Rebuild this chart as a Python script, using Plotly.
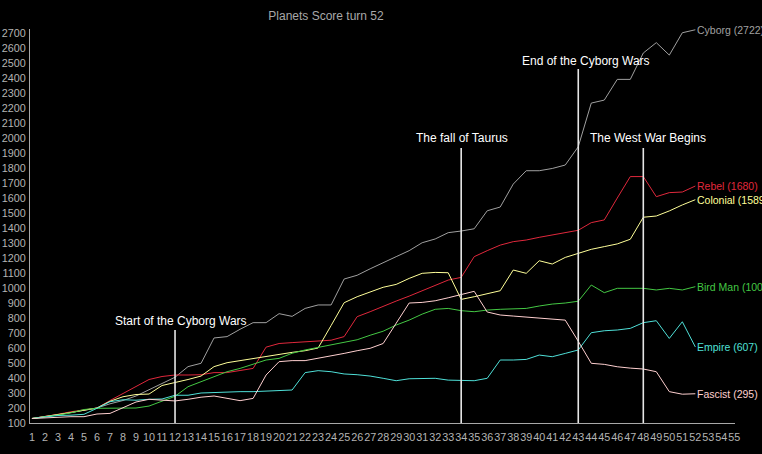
import plotly.graph_objects as go

# turns 1..52, scores
turns = list(range(1, 53))

cyborg = [130, 140, 155, 170, 185, 200, 228, 250, 280, 320, 360, 405, 476, 498, 667, 676,
          725, 769, 769, 829, 811, 864, 887, 887, 1060, 1085, 1128, 1166, 1209, 1249, 1302, 1327,
          1369, 1380, 1395, 1515, 1540, 1693, 1782, 1782, 1797, 1820, 1942, 2233, 2253, 2391,
          2391, 2567, 2636, 2553, 2702, 2722]
rebel = [130, 142, 158, 175, 190, 200, 250, 295, 340, 390, 410, 420, 420, 422, 436, 436,
         450, 464, 606, 630, 636, 642, 649, 652, 676, 809, 842, 880, 913, 946, 982, 1013,
         1053, 1071, 1209, 1249, 1286, 1309, 1320, 1338, 1353, 1369, 1385, 1436, 1454, 1600,
         1743, 1743, 1609, 1636, 1640, 1680]
colonial = [130, 142, 155, 170, 185, 200, 245, 275, 290, 293, 350, 369, 390, 413, 476, 502,
            516, 529, 547, 560, 571, 582, 600, 750, 902, 942, 976, 1005, 1024, 1064, 1098, 1104,
            1102, 924, 942, 960, 982, 1120, 1098, 1182, 1160, 1204, 1231, 1258, 1276, 1294,
            1325, 1472, 1480, 1514, 1554, 1589]
bird_man = [130, 140, 153, 168, 190, 198, 198, 198, 200, 213, 245, 278, 342, 376, 409, 442,
            464, 491, 520, 531, 565, 587, 604, 625, 640, 655, 685, 712, 753, 786, 826, 858,
            864, 849, 842, 853, 858, 860, 864, 880, 893, 900, 912, 1020, 969, 998, 998, 998,
            987, 998, 987, 1009]
empire = [130, 140, 150, 152, 158, 198, 242, 255, 252, 258, 260, 285, 285, 300, 304, 307,
          309, 309, 311, 313, 320, 436, 449, 442, 427, 422, 413, 398, 382, 395, 398, 398,
          386, 382, 382, 398, 520, 520, 524, 553, 542, 564, 587, 702, 715, 720, 731, 769,
          782, 664, 775, 607]
fascist = [130, 135, 140, 142, 142, 160, 164, 204, 240, 258, 253, 247, 258, 272, 280, 264,
           249, 264, 420, 509, 516, 516, 531, 547, 564, 582, 598, 630, 765, 900, 904, 915,
           935, 958, 978, 840, 820, 813, 807, 798, 791, 786, 645, 498, 491, 475, 466, 460,
           442, 309, 292, 295]

names = ["Cyborg", "Rebel", "Colonial", "Bird Man", "Empire", "Fascist"]
series = [cyborg, rebel, colonial, bird_man, empire, fascist]
colors = ["#a0a0a0", "#e0283c", "#ffff99", "#44c844", "#4fe0d8", "#ffd0d0"]

event_turns = [12, 34, 43, 48]
event_labels = ["Start of the Cyborg Wars", "The fall of Taurus",
                "End of the Cyborg Wars", "The West War Begins"]
event_tops = [720, 1933, 2460, 1933]
event_text_y = [780, 2000, 2513, 2000]
event_shift = [6, 1, 8, 5]

fig = go.Figure()
for name, vals, col in zip(names, series, colors):
    fig.add_trace(go.Scatter(x=turns, y=vals, mode="lines", name=name,
                             line=dict(color=col, width=1)))
    # end label next to the last point
    fig.add_annotation(x=turns[-1], y=vals[-1], text=f"{name} ({vals[-1]})",
                       xanchor="left", yanchor="middle", showarrow=False,
                       font=dict(family="Liberation Sans", size=10.5, color=col))

for t, lab, top, ty, sh in zip(event_turns, event_labels, event_tops, event_text_y, event_shift):
    fig.add_shape(type="line", x0=t, x1=t, y0=100, y1=top, xref="x", yref="y",
                  line=dict(color="#e6e6e6", width=1.6))
    fig.add_annotation(x=t, y=ty, text=lab, showarrow=False, xshift=sh,
                       xanchor="center", yanchor="middle",
                       font=dict(family="Liberation Sans", size=12, color="#ffffff"))

axis_font = dict(family="Liberation Sans", size=10.8, color="#b4b4b4")
fig.update_layout(
    width=762, height=454,
    margin=dict(l=30, r=27, t=29, b=31, autoexpand=False),
    paper_bgcolor="black", plot_bgcolor="black",
    showlegend=False,
    title=dict(text="Planets Score turn 52", x=326 / 762, xanchor="center",
               y=1 - 16 / 454, yanchor="middle",
               font=dict(family="Liberation Sans", size=12, color="#a8a8a8")),
    xaxis=dict(range=[0.85, 55.05], tickvals=list(range(1, 56)), tickangle=0,
               automargin=False, showgrid=False, zeroline=False, showline=True,
               linecolor="#a8a8a8", linewidth=1, ticks="", ticklabelstandoff=4,
               tickfont=axis_font),
    yaxis=dict(range=[100, 2727], tickvals=list(range(100, 2800, 100)),
               automargin=False, showgrid=False, zeroline=False, showline=True,
               linecolor="#a8a8a8", linewidth=1, ticks="", ticklabelstandoff=1,
               tickfont=axis_font),
)

# drop the default 8px page margin so the figure fills the window
fig.write_html("out.html", config={"displayModeBar": False},
               post_script="document.body.style.margin = '0';")
